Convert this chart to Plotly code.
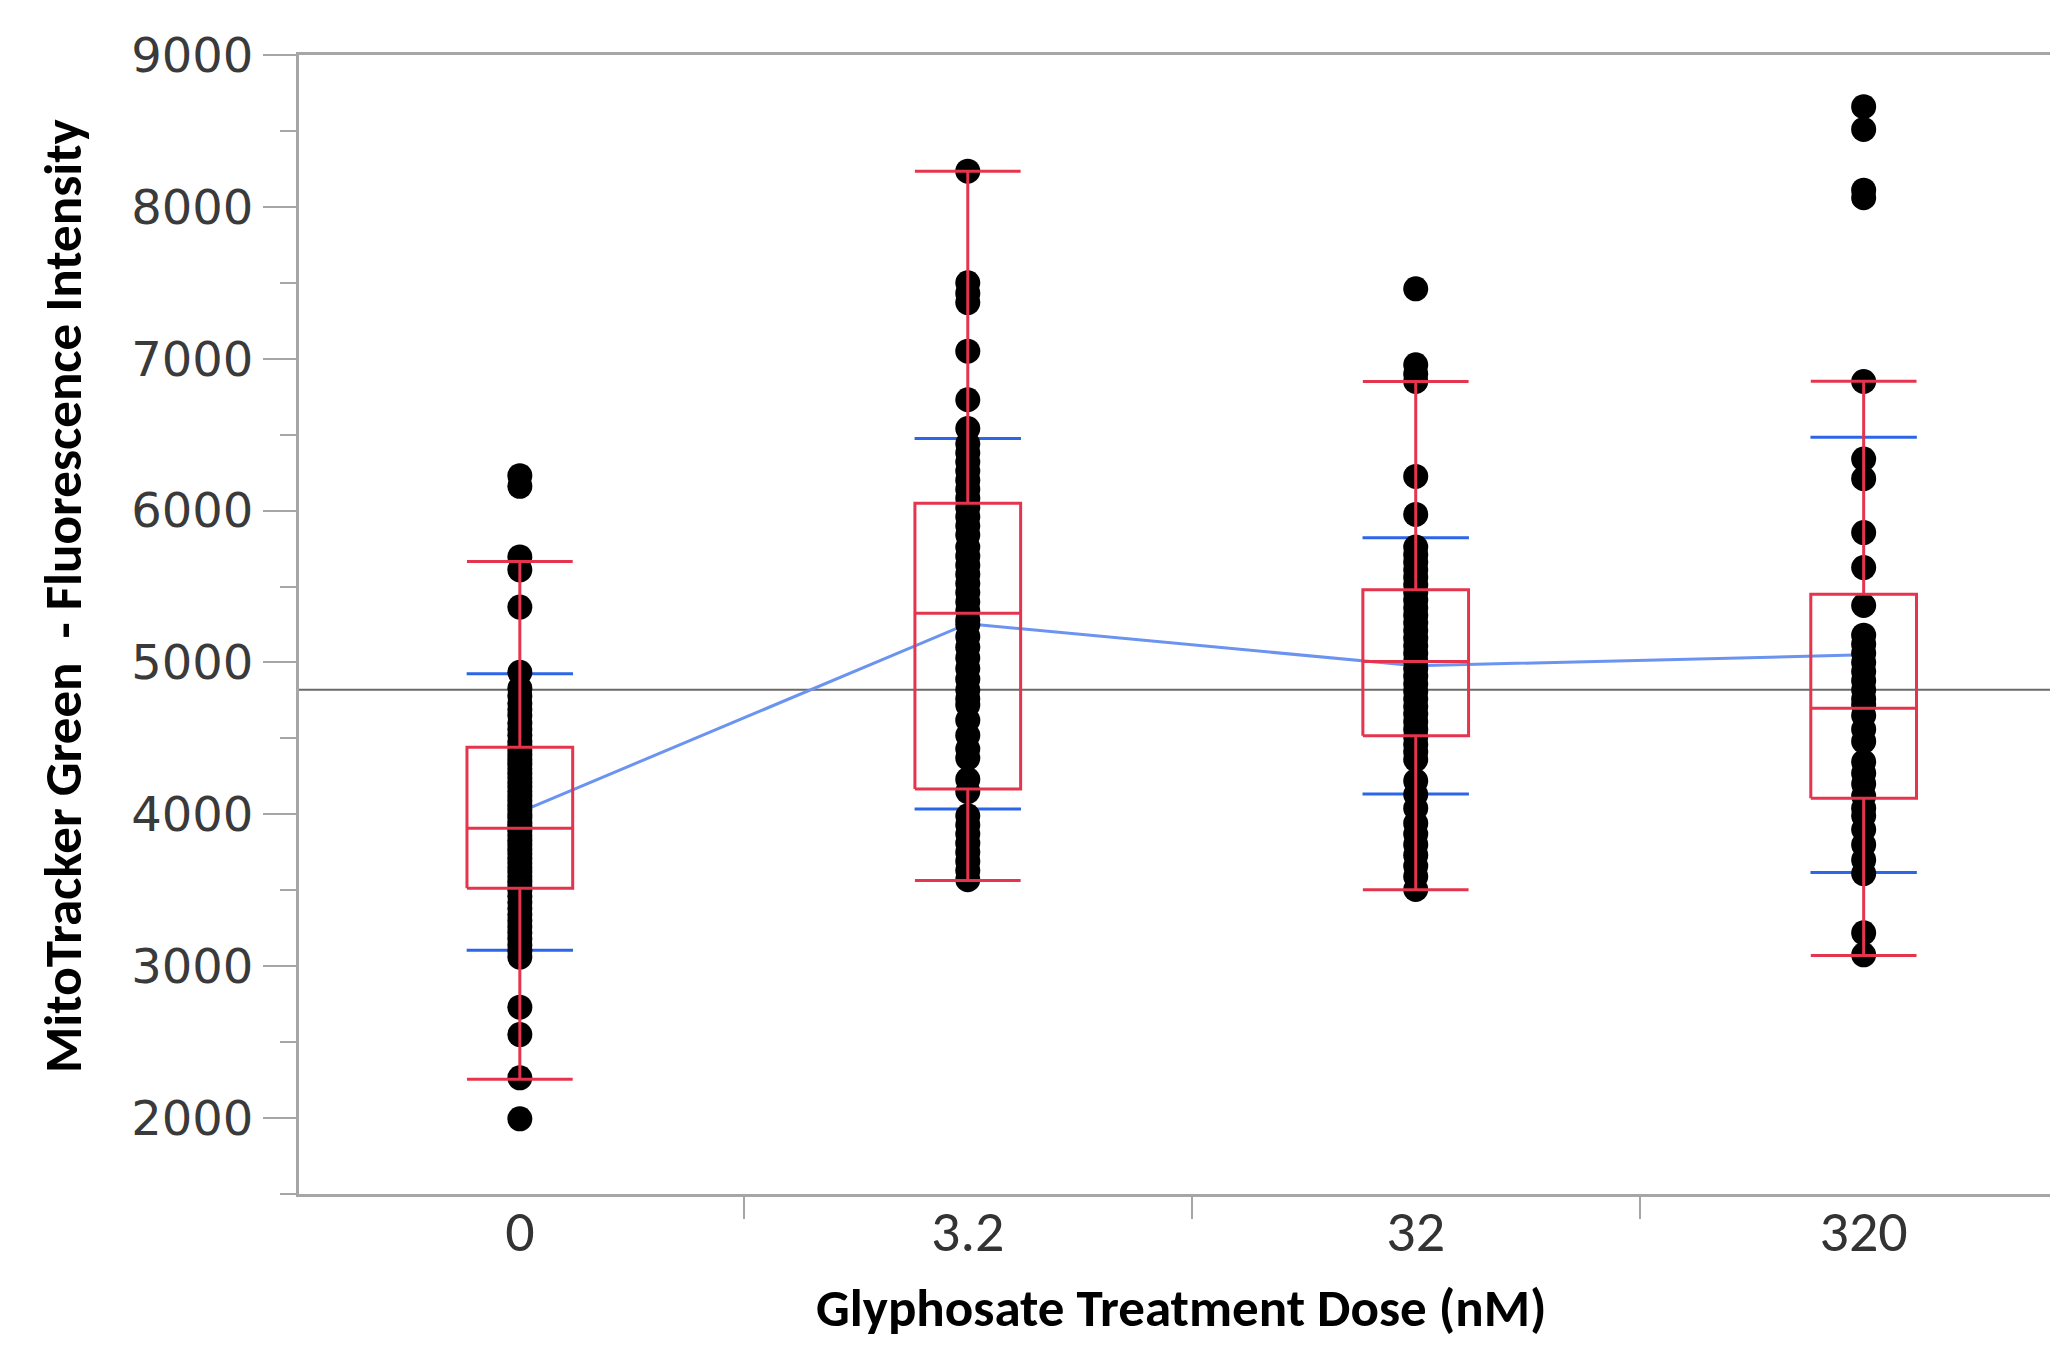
import plotly.graph_objects as go

# ---------------- data ----------------
doses = ["0", "3.2", "32", "320"]

pts_0 = [6230, 6160, 5695, 5610, 5365, 4935, 4830, 4780, 4730, 4690, 4650, 4600,
         4560, 4520, 4480, 4450, 4420, 4390, 4360, 4330, 4300, 4270, 4240, 4210,
         4180, 4150, 4120, 4090, 4060, 4030, 4000, 3980, 3950, 3930, 3910, 3890,
         3860, 3830, 3800, 3770, 3740, 3710, 3680, 3650, 3620, 3590, 3560, 3530,
         3500, 3460, 3420, 3380, 3340, 3300, 3260, 3220, 3180, 3140, 3100, 3060,
         2730, 2550, 2265, 1995]
pts_3_2 = [8235, 7500, 7430, 7370, 7050, 6730, 6540, 6440, 6380, 6320, 6260, 6200,
           6140, 6080, 6020, 5960, 5900, 5840, 5760, 5700, 5640, 5580, 5520, 5460,
           5400, 5340, 5280, 5250, 5170, 5100, 5030, 4960, 4890, 4820, 4760, 4720,
           4620, 4520, 4430, 4370, 4230, 4150, 3990, 3930, 3870, 3810, 3750, 3690,
           3630, 3570]
pts_32 = [7460, 6960, 6900, 6850, 6225, 5975, 5760, 5710, 5660, 5610, 5560, 5510,
          5460, 5410, 5360, 5310, 5260, 5210, 5160, 5110, 5060, 5010, 4960, 4910,
          4860, 4810, 4760, 4710, 4660, 4610, 4560, 4510, 4460, 4410, 4360, 4220,
          4130, 4040, 3940, 3870, 3800, 3730, 3660, 3590, 3505]
pts_320 = [8660, 8510, 8110, 8060, 6850, 6340, 6210, 5855, 5625, 5375, 5180, 5120,
           5060, 5000, 4940, 4880, 4820, 4760, 4720, 4650, 4560, 4480, 4345, 4270,
           4200, 4120, 4040, 3990, 3900, 3800, 3700, 3610, 3220, 3075]
points = [pts_0, pts_3_2, pts_32, pts_320]

means = [4015, 5255, 4978, 5050]
sds = [910, 1220, 844, 1433]
q1 = [3514, 4167, 4518, 4106]
medians = [3909, 5324, 5007, 4698]
q3 = [4442, 6048, 5478, 5450]
whisk_lo = [2256, 3564, 3503, 3071]
whisk_hi = [5665, 8235, 6850, 6852]
grand_mean = 4820

y_ticks = [2000, 3000, 4000, 5000, 6000, 7000, 8000, 9000]
boundaries = [0.5, 1.5, 2.5]

# ---------------- styles ----------------
RED = "#e5344d"
BLUE = "#2c66e8"
BLUE_LIGHT = "#6b93f0"
GREY = "#a6a6a6"

# the page body has an 8px margin, so the figure is sized to fit inside it
W, H = 2042, 1332
ML, MT, MB = 291, 47, 146
PW, PH = W - ML, H - MT - MB
X_RANGE = [-0.493, 3.416]

xpos = list(range(len(doses)))
fig = go.Figure()

# grand mean line
fig.add_shape(type="line", xref="paper", x0=0, x1=1, yref="y",
              y0=grand_mean, y1=grand_mean,
              line=dict(color="#6a6a6a", width=2), layer="below")

# line connecting group means
fig.add_trace(go.Scatter(x=xpos, y=means, mode="lines",
                         line=dict(color=BLUE_LIGHT, width=3),
                         hoverinfo="skip"))

# std-dev lines
upper = [m + s for m, s in zip(means, sds)]
lower = [m - s for m, s in zip(means, sds)]
fig.add_trace(go.Scatter(x=xpos + xpos, y=upper + lower, mode="markers",
                         marker=dict(symbol="line-ew", size=76,
                                     line=dict(color=BLUE, width=3)),
                         hoverinfo="skip"))

# data points
for i, pts in enumerate(points):
    fig.add_trace(go.Scatter(x=[xpos[i]] * len(pts), y=pts, mode="markers",
                             marker=dict(color="black", size=25,
                                         line=dict(width=0))))

# outlier box plots (drawn as lines so they sit above the points)
h = 0.118
for i in xpos:
    xs = [i - h, i + h, i + h, i - h, i - h, None,
          i - h, i + h, None,
          i, i, None,
          i, i, None,
          i - h, i + h, None,
          i - h, i + h]
    ys = [q1[i], q1[i], q3[i], q3[i], q1[i], None,
          medians[i], medians[i], None,
          q3[i], whisk_hi[i], None,
          q1[i], whisk_lo[i], None,
          whisk_hi[i], whisk_hi[i], None,
          whisk_lo[i], whisk_lo[i]]
    fig.add_trace(go.Scatter(x=xs, y=ys, mode="lines",
                             line=dict(color=RED, width=3),
                             hoverinfo="skip"))

# invisible trace that carries the boundary-tick axis
fig.add_trace(go.Scatter(x=boundaries, y=[grand_mean] * 3, xaxis="x2",
                         mode="markers", marker=dict(opacity=0),
                         hoverinfo="skip"))

fig.update_layout(
    width=W, height=H,
    margin=dict(l=ML, r=0, t=MT, b=MB),
    plot_bgcolor="white", paper_bgcolor="white",
    showlegend=False,
    xaxis=dict(
        range=X_RANGE,
        tickmode="array", tickvals=xpos, ticktext=doses, ticks="",
        ticklabelstandoff=-16,
        tickfont=dict(family="Carlito, 'Liberation Sans Narrow', Roboto, sans-serif",
                      size=58, color="#333333"),
        showline=True, linecolor=GREY, linewidth=3, mirror=True,
        showgrid=False, zeroline=False,
    ),
    xaxis2=dict(overlaying="x", side="bottom", range=X_RANGE,
                tickmode="array", tickvals=boundaries, ticks="outside",
                ticklen=24, tickwidth=2, tickcolor=GREY,
                showticklabels=False, showline=False, showgrid=False,
                zeroline=False),
    yaxis=dict(
        range=[1500, 9000],
        tickmode="array", tickvals=y_ticks, ticks="outside", ticklen=33,
        tickwidth=2, tickcolor=GREY,
        tickfont=dict(family="DejaVu Sans", size=48, color="#3a3a3a"),
        showline=True, linecolor=GREY, linewidth=3,
        showgrid=False, zeroline=False,
        minor=dict(dtick=500, tick0=0, ticks="outside", ticklen=16,
                   tickwidth=2, tickcolor=GREY),
    ),
)

title_font = dict(family="Carlito, 'Liberation Sans Narrow', Roboto, sans-serif",
                  size=53, color="black")
# target page positions (px): x-title centre (1181, 1308), y-title centre (63, 596)
fig.add_annotation(text="<b>Glyphosate Treatment Dose (nM)</b>",
                   xref="paper", yref="paper", x=(1181 - 8 - ML) / PW,
                   y=-(1308 - 8 - (MT + PH)) / PH, xanchor="center",
                   yanchor="middle", showarrow=False, font=title_font)
fig.add_annotation(text="<b>MitoTracker Green  - Fluorescence Intensity</b>",
                   xref="paper", yref="paper", x=(63 - 8 - ML) / PW,
                   y=(MT + PH - (596 - 8)) / PH, xanchor="center",
                   yanchor="middle", textangle=-90, showarrow=False,
                   font=title_font)

fig.write_html("out.html")
